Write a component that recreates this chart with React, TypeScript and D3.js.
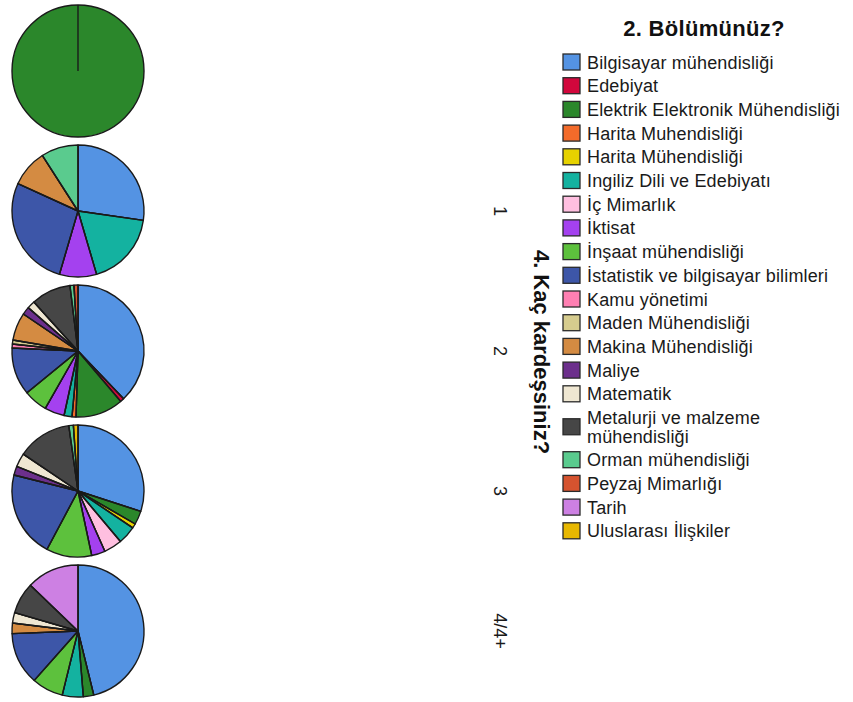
import React from "react";
import * as d3 from "d3";

const categories = [
  "Bilgisayar mühendisliği",
  "Edebiyat",
  "Elektrik Elektronik Mühendisliği",
  "Harita Muhendisliği",
  "Harita Mühendisliği",
  "Ingiliz Dili ve Edebiyatı",
  "İç Mimarlık",
  "İktisat",
  "İnşaat mühendisliği",
  "İstatistik ve bilgisayar bilimleri",
  "Kamu yönetimi",
  "Maden Mühendisliği",
  "Makina Mühendisliği",
  "Maliye",
  "Matematik",
  "Metalurji ve malzeme mühendisliği",
  "Orman mühendisliği",
  "Peyzaj Mimarlığı",
  "Tarih",
  "Uluslarası İlişkiler",
];

const colors = [
  "#5493e3", "#d2073c", "#2b872b", "#f36b2a", "#e6d200",
  "#14b2a0", "#ffbfe0", "#a441ef", "#5dc13d", "#3d56a8",
  "#ff7fb2", "#d6cc8e", "#d48b42", "#6c2f8c", "#efe7d2",
  "#464646", "#5acb8e", "#d5532f", "#cd80e3", "#e8b800",
];

// legend labels that wrap onto two lines
const legendLines = categories.map((c) =>
  c === "Metalurji ve malzeme mühendisliği" ? ["Metalurji ve malzeme", "mühendisliği"] : [c]
);

const rowLabels = ["", "1", "2", "3", "4/4+"];

const rowBlank = [0, 0, 1, 0, 0, 0, 0, 0, 0, 0, 0, 0, 0, 0, 0, 0, 0, 0, 0, 0];
const row1 = [3, 0, 0, 0, 0, 2, 0, 1, 0, 3, 0, 0, 1, 0, 0, 0, 1, 0, 0, 0];
const row2 = [39, 1, 12, 1, 0, 2, 0, 5, 6, 12, 1, 1, 7, 2, 2, 10, 1, 1, 0, 0];
const row3 = [27, 0, 3, 0, 1, 4, 4, 3, 10, 19, 0, 0, 0, 2, 3, 12, 1, 0, 0, 1];
const row4 = [18, 0, 1, 0, 0, 2, 0, 0, 3, 5, 0, 0, 1, 0, 1, 3, 0, 0, 5, 0];

const rows = [rowBlank, row1, row2, row3, row4];

const legendTitle = "2. Bölümünüz?";
const axisTitle = "4. Kaç kardeşsiniz?";

const W = 853;
const H = 702;
const FONT = "'Liberation Sans', Arial, Helvetica, sans-serif";

export default function App() {
  const radius = 66;
  const cx = 78;
  const yScale = d3
    .scalePoint<number>()
    .domain(rows.map((_, i) => i))
    .range([71, 631]);

  const pie = d3
    .pie<{ v: number; i: number }>()
    .sort(null)
    .value((d) => d.v);
  const arc = d3
    .arc<d3.PieArcDatum<{ v: number; i: number }>>()
    .innerRadius(0)
    .outerRadius(radius);

  // legend positions
  const legendX = 563;
  let ly = 62;
  const legendY: number[] = [];
  legendLines.forEach((lines) => {
    const extra = (lines.length - 1) * 18.5;
    legendY.push(ly + extra / 2);
    ly += 23.7 + extra;
  });

  return (
    <div style={{ position: "absolute", left: 0, top: 0 }}>
      <svg width={W} height={H} style={{ display: "block" }} fontFamily={FONT}>
        <rect width={W} height={H} fill="#ffffff" />
        {rows.map((row, ri) => {
          const data = row.map((v, i) => ({ v, i })).filter((d) => d.v > 0);
          const arcs = pie(data);
          const cy = yScale(ri) as number;
          return (
            <g key={ri} transform={`translate(${cx},${cy})`}>
              {arcs.map((a, k) => (
                <path
                  key={k}
                  d={arc(a) || ""}
                  fill={colors[a.data.i]}
                  stroke="#1a1a1a"
                  strokeWidth={1.4}
                  strokeLinejoin="round"
                />
              ))}
              {arcs.map((a, k) => (
                <line
                  key={"l" + k}
                  x1={0}
                  y1={0}
                  x2={radius * Math.sin(a.startAngle)}
                  y2={-radius * Math.cos(a.startAngle)}
                  stroke="#1a1a1a"
                  strokeWidth={1.4}
                />
              ))}
            </g>
          );
        })}

        {rowLabels.map((lab, ri) => (
          <text
            key={ri}
            transform={`translate(500,${yScale(ri)}) rotate(90)`}
            textAnchor="middle"
            dominantBaseline="central"
            fontSize={18}
            fill="#1a1a1a"
          >
            {lab}
          </text>
        ))}

        <text
          transform={`translate(541,352) rotate(90)`}
          textAnchor="middle"
          dominantBaseline="central"
          fontSize={22}
          fontWeight="bold"
          fill="#111"
        >
          {axisTitle}
        </text>

        <text
          x={704}
          y={36}
          textAnchor="middle"
          fontSize={22}
          fontWeight="bold"
          letterSpacing={0.3}
          fill="#111"
        >
          {legendTitle}
        </text>

        {legendLines.map((lines, i) => {
          const y = legendY[i];
          return (
            <g key={i}>
              <rect
                x={legendX}
                y={y - 8}
                width={17}
                height={16}
                fill={colors[i]}
                stroke="#2a2a2a"
                strokeWidth={1.3}
              />
              <text
                x={587}
                y={y}
                fontSize={18}
                letterSpacing={0.15}
                fill="#1a1a1a"
              >
                {lines.map((ln, k) => (
                  <tspan
                    key={k}
                    x={587}
                    dy={k === 0 ? (lines.length > 1 ? -9.25 + 6.5 : 6.5) : 18.5}
                  >
                    {ln}
                  </tspan>
                ))}
              </text>
            </g>
          );
        })}
      </svg>
    </div>
  );
}
